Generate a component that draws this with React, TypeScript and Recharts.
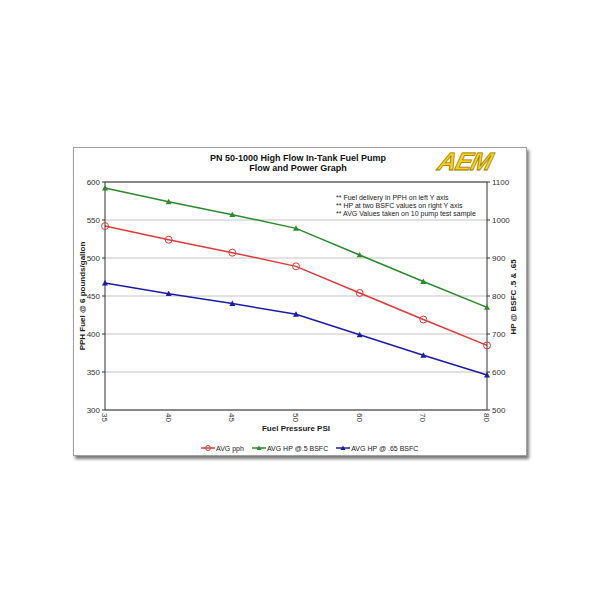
import React from 'react';
import { LineChart, Line, XAxis, YAxis, CartesianGrid, ReferenceLine } from 'recharts';

// fuel pressure (psi) categories
const pressures = ['35', '40', '45', '50', '60', '70', '80'];
// AVG pph, left axis
const avgPph = [542, 524, 507, 489, 454, 419, 385];
// HP @ .5 BSFC, right axis
const hpHalf = [1084, 1048, 1014, 978, 908, 838, 770];
// HP @ .65 BSFC, right axis
const hpSixtyFive = [834, 806, 780, 752, 698, 644, 592];

const leftTicks = [300, 350, 400, 450, 500, 550, 600];
const rightTicks = [500, 600, 700, 800, 900, 1000, 1100];

const notes = [
  '** Fuel delivery in PPH on left Y axis',
  '** HP at two BSFC values on right Y axis',
  '** AVG Values taken on 10 pump test sample',
];

const RED = '#e03a3a';
const GREEN = '#2b8a2b';
const BLUE = '#1c1ca8';
const FONT = '"Liberation Sans", Arial, sans-serif';

const data = pressures.map((p, i) => ({
  psi: p,
  pph: avgPph[i],
  hp5: hpHalf[i],
  hp65: hpSixtyFive[i],
}));

const circleDot = (props: any) => {
  const { cx, cy, index } = props;
  return <circle key={`c-${index}`} cx={cx} cy={cy} r={3.5} fill="none" stroke={RED} strokeWidth={1} />;
};

const triDot = (color: string) => (props: any) => {
  const { cx, cy, index } = props;
  const s = 3;
  return (
    <path
      key={`t-${color}-${index}`}
      d={`M${cx},${cy - s} L${cx + s},${cy + s * 0.8} L${cx - s},${cy + s * 0.8} Z`}
      fill={color}
    />
  );
};

// rotated category labels just under the axis
const XTick = (props: any) => {
  const { x, payload } = props;
  const y = 413;
  return (
    <text x={x} y={y} transform={`rotate(90 ${x} ${y})`} fontSize={8} fill="#333" dy={3} textAnchor="start" fontFamily={FONT}>
      {payload.value}
    </text>
  );
};

const legendItems = [
  { label: 'AVG pph', color: RED, shape: 'circle' },
  { label: 'AVG HP @.5 BSFC', color: GREEN, shape: 'tri' },
  { label: 'AVG HP @ .65 BSFC', color: BLUE, shape: 'tri' },
];

export default function App() {
  return (
    <div style={{ position: 'absolute', left: 0, top: 0, width: 600, height: 600, background: '#fff', fontFamily: FONT }}>
      <div
        style={{
          position: 'absolute',
          left: 73,
          top: 147,
          width: 452,
          height: 307,
          border: '1px solid #a0a0a0',
          boxShadow: '2px 3px 3px #777',
          background: '#fff',
        }}
      />
      <div style={{ position: 'absolute', left: 0, top: 0 }}>
        <LineChart width={600} height={600} data={data} margin={{ top: 182, right: 83, bottom: 170, left: 75 }}>
          <CartesianGrid vertical={false} stroke="#c4c4c4" strokeWidth={1} yAxisId="left" />
          <XAxis
            dataKey="psi"
            height={20}
            tick={<XTick />}
            tickLine={false}
            axisLine={{ stroke: '#333' }}
            interval={0}
          />
          <YAxis
            yAxisId="left"
            width={30}
            domain={[300, 600]}
            ticks={leftTicks}
            tick={{ fontSize: 8, fill: '#333', fontFamily: FONT }}
            tickSize={3}
            tickLine={{ stroke: '#333' }}
            axisLine={{ stroke: '#333' }}
          />
          <YAxis
            yAxisId="right"
            orientation="right"
            width={30}
            domain={[500, 1100]}
            ticks={rightTicks}
            tick={{ fontSize: 8, fill: '#333', fontFamily: FONT }}
            tickSize={3}
            tickLine={{ stroke: '#333' }}
            axisLine={{ stroke: '#333' }}
          />
          <ReferenceLine yAxisId="left" y={600} stroke="#333" />
          <Line yAxisId="left" dataKey="pph" stroke={RED} strokeWidth={1.5} dot={circleDot} isAnimationActive={false} />
          <Line yAxisId="right" dataKey="hp5" stroke={GREEN} strokeWidth={1.5} dot={triDot(GREEN)} isAnimationActive={false} />
          <Line yAxisId="right" dataKey="hp65" stroke={BLUE} strokeWidth={1.5} dot={triDot(BLUE)} isAnimationActive={false} />
        </LineChart>
      </div>

      {/* title */}
      <div style={{ position: 'absolute', left: 150, width: 296, top: 153, textAlign: 'center', fontSize: 9, fontWeight: 'bold', lineHeight: '10px', color: '#111' }}>
        <div>PN 50-1000 High Flow In-Tank Fuel Pump</div>
        <div>Flow and Power Graph</div>
      </div>

      {/* logo */}
      <div
        style={{
          position: 'absolute',
          left: 439,
          top: 148,
          fontSize: 25,
          fontWeight: 900,
          fontStyle: 'italic',
          color: '#f7d416',
          letterSpacing: -1,
          WebkitTextStroke: '0.8px #9a7400',
          transform: 'skewX(-15deg)',
          lineHeight: '26px',
        }}
      >
        AEM
      </div>

      {/* notes */}
      <div style={{ position: 'absolute', left: 336, top: 194, fontSize: 7, lineHeight: '8px', color: '#222' }}>
        {notes.map((n) => (
          <div key={n}>{n}</div>
        ))}
      </div>

      {/* axis titles */}
      <div style={{ position: 'absolute', left: 296, top: 424, transform: 'translateX(-50%)', fontSize: 8, fontWeight: 'bold', color: '#222', whiteSpace: 'nowrap' }}>
        Fuel Pressure PSI
      </div>
      <div style={{ position: 'absolute', left: 82, top: 296, transform: 'translate(-50%, -50%) rotate(-90deg)', fontSize: 8, fontWeight: 'bold', color: '#222', whiteSpace: 'nowrap' }}>
        PPH Fuel @ 6 pounds/gallon
      </div>
      <div style={{ position: 'absolute', left: 513, top: 297, transform: 'translate(-50%, -50%) rotate(-90deg)', fontSize: 8, fontWeight: 'bold', color: '#222', whiteSpace: 'nowrap' }}>
        HP @ BSFC .5 &amp; .65
      </div>

      {/* legend */}
      <div style={{ position: 'absolute', left: 201, top: 444, display: 'flex', gap: 8, fontSize: 7, color: '#222', alignItems: 'center' }}>
        {legendItems.map((it) => (
          <div key={it.label} style={{ display: 'flex', alignItems: 'center', gap: 1 }}>
            <svg width={14} height={8}>
              <line x1={0} y1={4} x2={14} y2={4} stroke={it.color} strokeWidth={1.5} />
              {it.shape === 'circle' ? (
                <circle cx={7} cy={4} r={2.5} fill="none" stroke={it.color} />
              ) : (
                <path d="M7,1.5 L9.5,6 L4.5,6 Z" fill={it.color} />
              )}
            </svg>
            <span>{it.label}</span>
          </div>
        ))}
      </div>
    </div>
  );
}
